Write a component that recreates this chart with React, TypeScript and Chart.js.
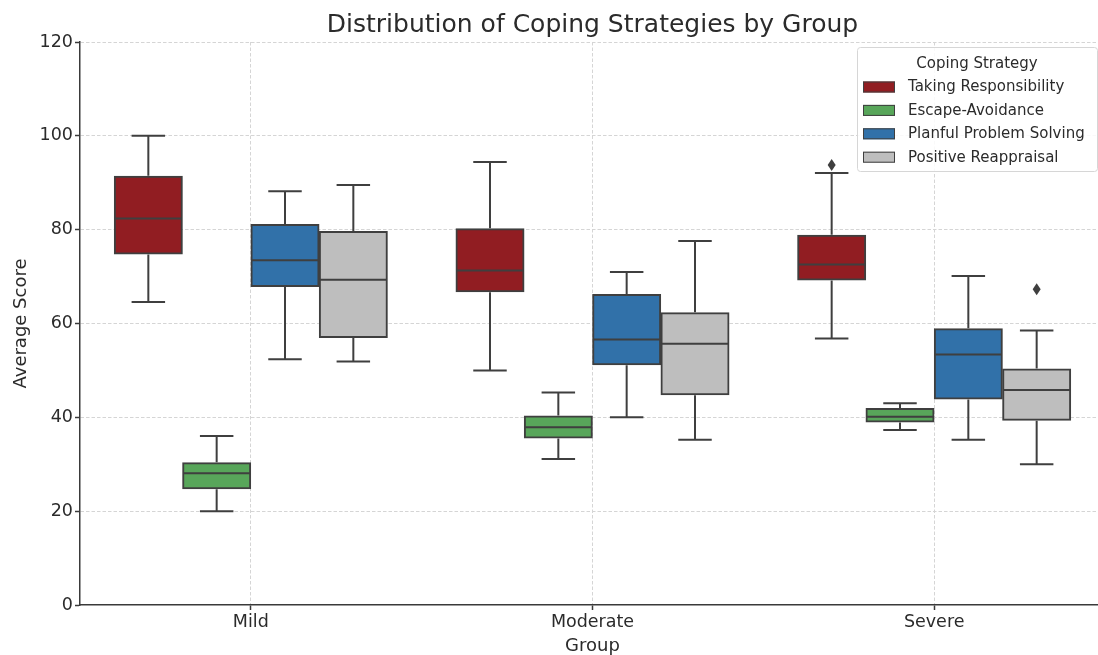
import React, { useEffect, useRef } from 'react';
import { Chart, registerables } from 'chart.js';

Chart.register(...registerables);

const groups = ['Mild', 'Moderate', 'Severe'];
const strategies = ['Taking Responsibility', 'Escape-Avoidance', 'Planful Problem Solving', 'Positive Reappraisal'];
const strategyColors = ['#911d22', '#58a65a', '#3171a9', '#bebebe'];

// [min, q1, median, q3, max] for Mild, Moderate, Severe
const takingResponsibility = [
  [64.6, 74.9, 82.4, 91.3, 100.0],
  [50.0, 66.9, 71.3, 80.1, 94.4],
  [56.8, 69.4, 72.6, 78.7, 92.1],
];
const escapeAvoidance = [
  [20.0, 24.9, 28.1, 30.2, 36.0],
  [31.1, 35.7, 37.9, 40.2, 45.3],
  [37.3, 39.1, 40.1, 41.8, 43.0],
];
const planfulProblemSolving = [
  [52.4, 68.0, 73.5, 81.0, 88.2],
  [40.0, 51.3, 56.6, 66.1, 71.0],
  [35.2, 44.0, 53.4, 58.8, 70.1],
];
const positiveReappraisal = [
  [51.9, 57.1, 69.3, 79.5, 89.5],
  [35.2, 44.9, 55.7, 62.2, 77.6],
  [30.0, 39.5, 45.8, 50.2, 58.5],
];

// outliers per group
const takingResponsibilityOutliers = [[], [], [93.8]];
const escapeAvoidanceOutliers = [[], [], []];
const planfulProblemSolvingOutliers = [[], [], []];
const positiveReappraisalOutliers = [[], [], [67.3]];

const yTicks = [0, 20, 40, 60, 80, 100, 120];

const series = [takingResponsibility, escapeAvoidance, planfulProblemSolving, positiveReappraisal];
const outlierSeries = [
  takingResponsibilityOutliers,
  escapeAvoidanceOutliers,
  planfulProblemSolvingOutliers,
  positiveReappraisalOutliers,
];

const FONT = "'DejaVu Sans', sans-serif";
const TEXT = '#2b2b2b';
const EDGE = '#3f3f3f';

const boxPlugin = {
  id: 'boxWhiskers',
  afterDatasetsDraw(chart: any) {
    const ctx = chart.ctx;
    const ys = chart.scales.y;
    series.forEach((s, di) => {
      const meta = chart.getDatasetMeta(di);
      meta.data.forEach((bar: any, gi: number) => {
        const [mn, q1, md, q3, mx] = s[gi];
        const x = bar.x;
        const w = bar.width;
        const pMn = ys.getPixelForValue(mn);
        const pQ1 = ys.getPixelForValue(q1);
        const pMd = ys.getPixelForValue(md);
        const pQ3 = ys.getPixelForValue(q3);
        const pMx = ys.getPixelForValue(mx);
        ctx.save();
        ctx.strokeStyle = EDGE;
        ctx.lineWidth = 2;
        ctx.lineCap = 'butt';
        ctx.beginPath();
        ctx.moveTo(x, pQ3 - 1);
        ctx.lineTo(x, pMx);
        ctx.moveTo(x, pQ1 + 1);
        ctx.lineTo(x, pMn);
        ctx.moveTo(x - w / 4, pMx);
        ctx.lineTo(x + w / 4, pMx);
        ctx.moveTo(x - w / 4, pMn);
        ctx.lineTo(x + w / 4, pMn);
        ctx.moveTo(x - w / 2, pMd);
        ctx.lineTo(x + w / 2, pMd);
        ctx.stroke();
        ctx.fillStyle = EDGE;
        outlierSeries[di][gi].forEach((v: number) => {
          const py = ys.getPixelForValue(v);
          ctx.beginPath();
          ctx.moveTo(x, py - 6);
          ctx.lineTo(x + 4, py);
          ctx.lineTo(x, py + 6);
          ctx.lineTo(x - 4, py);
          ctx.closePath();
          ctx.fill();
        });
        ctx.restore();
      });
    });
  },
  afterDraw(chart: any) {
    const ctx = chart.ctx;
    const area = chart.chartArea;
    ctx.save();
    // title
    ctx.fillStyle = TEXT;
    ctx.font = `25px ${FONT}`;
    ctx.textAlign = 'center';
    ctx.textBaseline = 'alphabetic';
    ctx.fillText('Distribution of Coping Strategies by Group', (area.left + area.right) / 2, 32);

    // legend
    const lx = 857;
    const ly = area.top + 5;
    const lw = 240;
    const lh = 124;
    ctx.beginPath();
    ctx.roundRect(lx + 0.5, ly + 0.5, lw, lh, 3);
    ctx.fillStyle = 'rgba(255,255,255,0.85)';
    ctx.fill();
    ctx.strokeStyle = '#d6d6d6';
    ctx.lineWidth = 1;
    ctx.stroke();

    ctx.font = `15px ${FONT}`;
    ctx.fillStyle = TEXT;
    ctx.textAlign = 'center';
    ctx.textBaseline = 'middle';
    ctx.fillText('Coping Strategy', lx + lw / 2, ly + 17);
    ctx.textAlign = 'left';
    strategies.forEach((name, i) => {
      const cy = ly + 40 + i * 23.4;
      ctx.fillStyle = strategyColors[i];
      ctx.fillRect(863, cy - 5.5, 32, 11);
      ctx.strokeStyle = EDGE;
      ctx.lineWidth = 1;
      ctx.strokeRect(863.5, cy - 5, 31, 10);
      ctx.fillStyle = TEXT;
      ctx.fillText(name, 908, cy + 0.5);
    });
    ctx.restore();
  },
};

export default function App() {
  const ref = useRef<HTMLCanvasElement | null>(null);

  useEffect(() => {
    document.body.style.margin = '0';
    document.body.style.overflow = 'hidden';
    const canvas = ref.current;
    if (!canvas) return;
    const chart = new Chart(canvas, {
      type: 'bar',
      data: {
        labels: groups,
        datasets: strategies.map((name, i) => ({
          label: name,
          data: series[i].map((d) => [d[1], d[3]]),
          backgroundColor: strategyColors[i],
          borderColor: EDGE,
          borderWidth: 2,
          borderSkipped: false,
          inflateAmount: 1,
          categoryPercentage: 0.8,
          barPercentage: 0.98,
        })),
      },
      options: {
        responsive: false,
        animation: false,
        devicePixelRatio: 1,
        events: [],
        layout: { padding: { left: 0, right: 0, top: 42, bottom: -3 } },
        plugins: {
          legend: { display: false },
          title: { display: false },
          tooltip: { enabled: false },
        },
        scales: {
          x: {
            type: 'category',
            offset: true,
            afterFit: (s: any) => {
              s.height = 53;
            },
            grid: {
              offset: false,
              color: '#d5d5d5',
              lineWidth: 1,
              drawTicks: true,
              tickLength: 5,
              tickColor: '#3a3a3a',
              tickWidth: 1.5,
              tickBorderDash: [],
            },
            border: { display: true, color: '#3a3a3a', width: 1.5, dash: [3.5, 2] },
            ticks: {
              color: TEXT,
              font: { family: FONT, size: 17.5 },
              padding: 2,
              maxRotation: 0,
            },
            title: {
              display: true,
              text: 'Group',
              color: TEXT,
              font: { family: FONT, size: 18 },
              padding: { top: 0, bottom: 1 },
            },
          },
          y: {
            min: 0,
            max: 120,
            afterFit: (s: any) => {
              s.width = 80;
            },
            afterBuildTicks: (s: any) => {
              s.ticks = yTicks.map((v) => ({ value: v }));
            },
            grid: {
              color: (c: any) => (c.tick && c.tick.value === 0 ? 'rgba(0,0,0,0)' : '#d5d5d5'),
              lineWidth: 1,
              drawTicks: true,
              tickLength: 5,
              tickColor: '#3a3a3a',
              tickWidth: 1.5,
              tickBorderDash: [],
            },
            border: { display: true, color: '#3a3a3a', width: 1.5, dash: [3.5, 2] },
            ticks: {
              color: TEXT,
              font: { family: FONT, size: 17.5 },
              padding: 2,
            },
            title: {
              display: true,
              text: 'Average Score',
              color: TEXT,
              font: { family: FONT, size: 18 },
              padding: { top: 11, bottom: 0 },
            },
          },
        },
      },
      plugins: [boxPlugin],
    });
    return () => chart.destroy();
  }, []);

  return (
    <div style={{ position: 'absolute', left: 0, top: 0, width: 1098, height: 655, overflow: 'hidden', background: '#fff' }}>
      <canvas ref={ref} width={1105} height={655} style={{ display: 'block', width: 1105, height: 655 }} />
    </div>
  );
}
